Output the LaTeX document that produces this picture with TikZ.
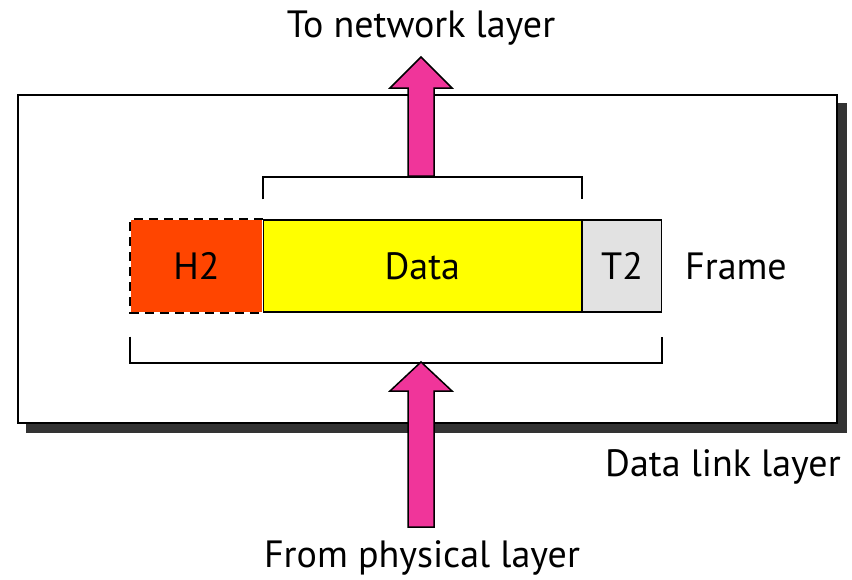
\documentclass[tikz,border=0pt]{standalone}
\usepackage{fontspec}
\setmainfont{PT Sans}
\usetikzlibrary{positioning,calc}
\definecolor{myPink}{HTML}{F0359A}
\definecolor{myOrange}{HTML}{FF4500}
\definecolor{myYellow}{HTML}{FFFF00}
\definecolor{myGray}{HTML}{E2E2E2}

\begin{document}
\begin{tikzpicture}[x=1pt,y=-1pt,
	Field/.style={rectangle,draw=black,line width=1.3pt,minimum height=92pt,inner sep=0pt,font=\fontsize{38}{44}\selectfont},
	Label/.style={inner sep=0pt,anchor=base,font=\fontsize{38}{44}\selectfont},
	Bracket/.style={-,black,line width=1.8pt},
	BigArrow/.style={fill=myPink,draw=black,line width=1.5pt,line join=miter},
]
	\useasboundingbox (0,0) rectangle (852,579);
	% layer box with shadow
	\fill[black!80] (26,103) rectangle (847,433);
	\draw[fill=white,line width=2.5pt] (18,95) rectangle (837,423);

	\node[Field,fill=myOrange,minimum width=131pt,draw=none] (h2) at (196.5,266) {H2};
	\draw[line width=2pt,dash pattern=on 9pt off 6pt] (h2.north east) -- (h2.north west) -- (h2.south west) -- (h2.south east);
	\node[Field,fill=myYellow,minimum width=318pt,right=0pt of h2] (data) {Data};
	\node[Field,fill=myGray,minimum width=79pt,right=0pt of data] (t2) {T2};
	\node[Label,anchor=base west] (frame) at (685,279) {Frame};

	\node[Label] (net) at (421,37) {To network layer};
	\node[Label] (phy) at (422,567) {From physical layer};
	\node[Label,anchor=base west] (dll) at (605,476) {Data link layer};

	% brackets
	\draw[Bracket] (data.north west) ++(0,-20) -- ++(0,-22) -| ($(data.north east)+(0,-20)$);
	\draw[Bracket] (h2.south west) ++(0,24) -- ++(0,26) -| ($(t2.south east)+(0,24)$);

	% arrows
	\draw[BigArrow] (408,176) -- (408,88) -- (390,88) -- (421,57) -- (452,88) -- (434,88) -- (434,176) -- cycle;
	\draw[BigArrow] (408,527) -- (408,391) -- (390,391) -- (421,362) -- (452,391) -- (434,391) -- (434,527) -- cycle;
\end{tikzpicture}
\end{document}
